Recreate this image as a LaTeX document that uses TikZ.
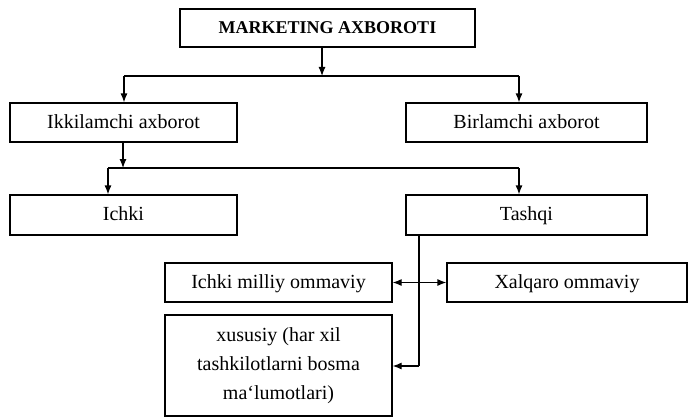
\documentclass[tikz,border=0pt]{standalone}
\usepackage{fontspec}
\setmainfont{Liberation Serif}
\usetikzlibrary{arrows.meta}
\begin{document}
\begin{tikzpicture}[x=1pt,y=-1pt,
  box/.style={draw,line width=1.2pt,rectangle,inner sep=0pt,align=center,
    font=\fontsize{20}{29}\selectfont},
  one/.style={text height=14pt,text depth=3pt},
  ln/.style={line width=1.2pt},
  arr/.style={line width=1.2pt,-{Latex[length=9pt,width=7pt]}},
  darr/.style={line width=1.2pt,{Latex[length=9pt,width=7pt]}-{Latex[length=9pt,width=7pt]}}]
\useasboundingbox (0,0) rectangle (688,420);
\node[box,one,minimum width=295pt,minimum height=38pt,
  font=\bfseries\fontsize{18}{22}\selectfont] (top) at (327.5,28) {MARKETING AXBOROTI};
\node[box,one,minimum width=227pt,minimum height=39pt] (ikk) at (123.5,122.5) {Ikkilamchi axborot};
\node[box,one,minimum width=241pt,minimum height=39pt] (bir) at (526.5,122.5) {Birlamchi axborot};
\node[box,one,minimum width=227pt,minimum height=40pt] (ichki) at (123.5,215) {Ichki};
\node[box,one,minimum width=241pt,minimum height=40pt] (tash) at (526.5,215) {Tashqi};
\node[box,one,minimum width=227pt,minimum height=39pt] (milliy) at (278.5,282.5) {Ichki milliy ommaviy};
\node[box,one,minimum width=240pt,minimum height=39pt] (xalq) at (567,282.5) {Xalqaro ommaviy};
\node[box,minimum width=227pt,minimum height=101pt] (xus) at (278.5,365.5)
  {xususiy (har xil\\tashkilotlarni bosma\\ma‘lumotlari)};
% connectors
\coordinate (j1) at (322,76);
\coordinate (L1) at (124,76);
\coordinate (R1) at (519,76);
\draw[arr] (top.south -| j1) -- (j1);
\draw[ln] (L1) -- (R1);
\draw[arr] (L1) -- (L1 |- ikk.north);
\draw[arr] (R1) -- (R1 |- bir.north);
\coordinate (j2) at (123,168);
\coordinate (L2) at (108,168);
\coordinate (R2) at (519,168);
\draw[arr] (ikk.south -| j2) -- (j2);
\draw[ln] (L2) -- (R2);
\draw[arr] (L2) -- (L2 |- ichki.north);
\draw[arr] (R2) -- (R2 |- tash.north);
\coordinate (t1) at (419,366);
\draw[ln] (tash.south -| t1) -- (t1);
\draw[arr] (t1) -- (t1 -| xus.east);
\draw[darr] (milliy.east) -- (xalq.west);
\end{tikzpicture}
\end{document}
